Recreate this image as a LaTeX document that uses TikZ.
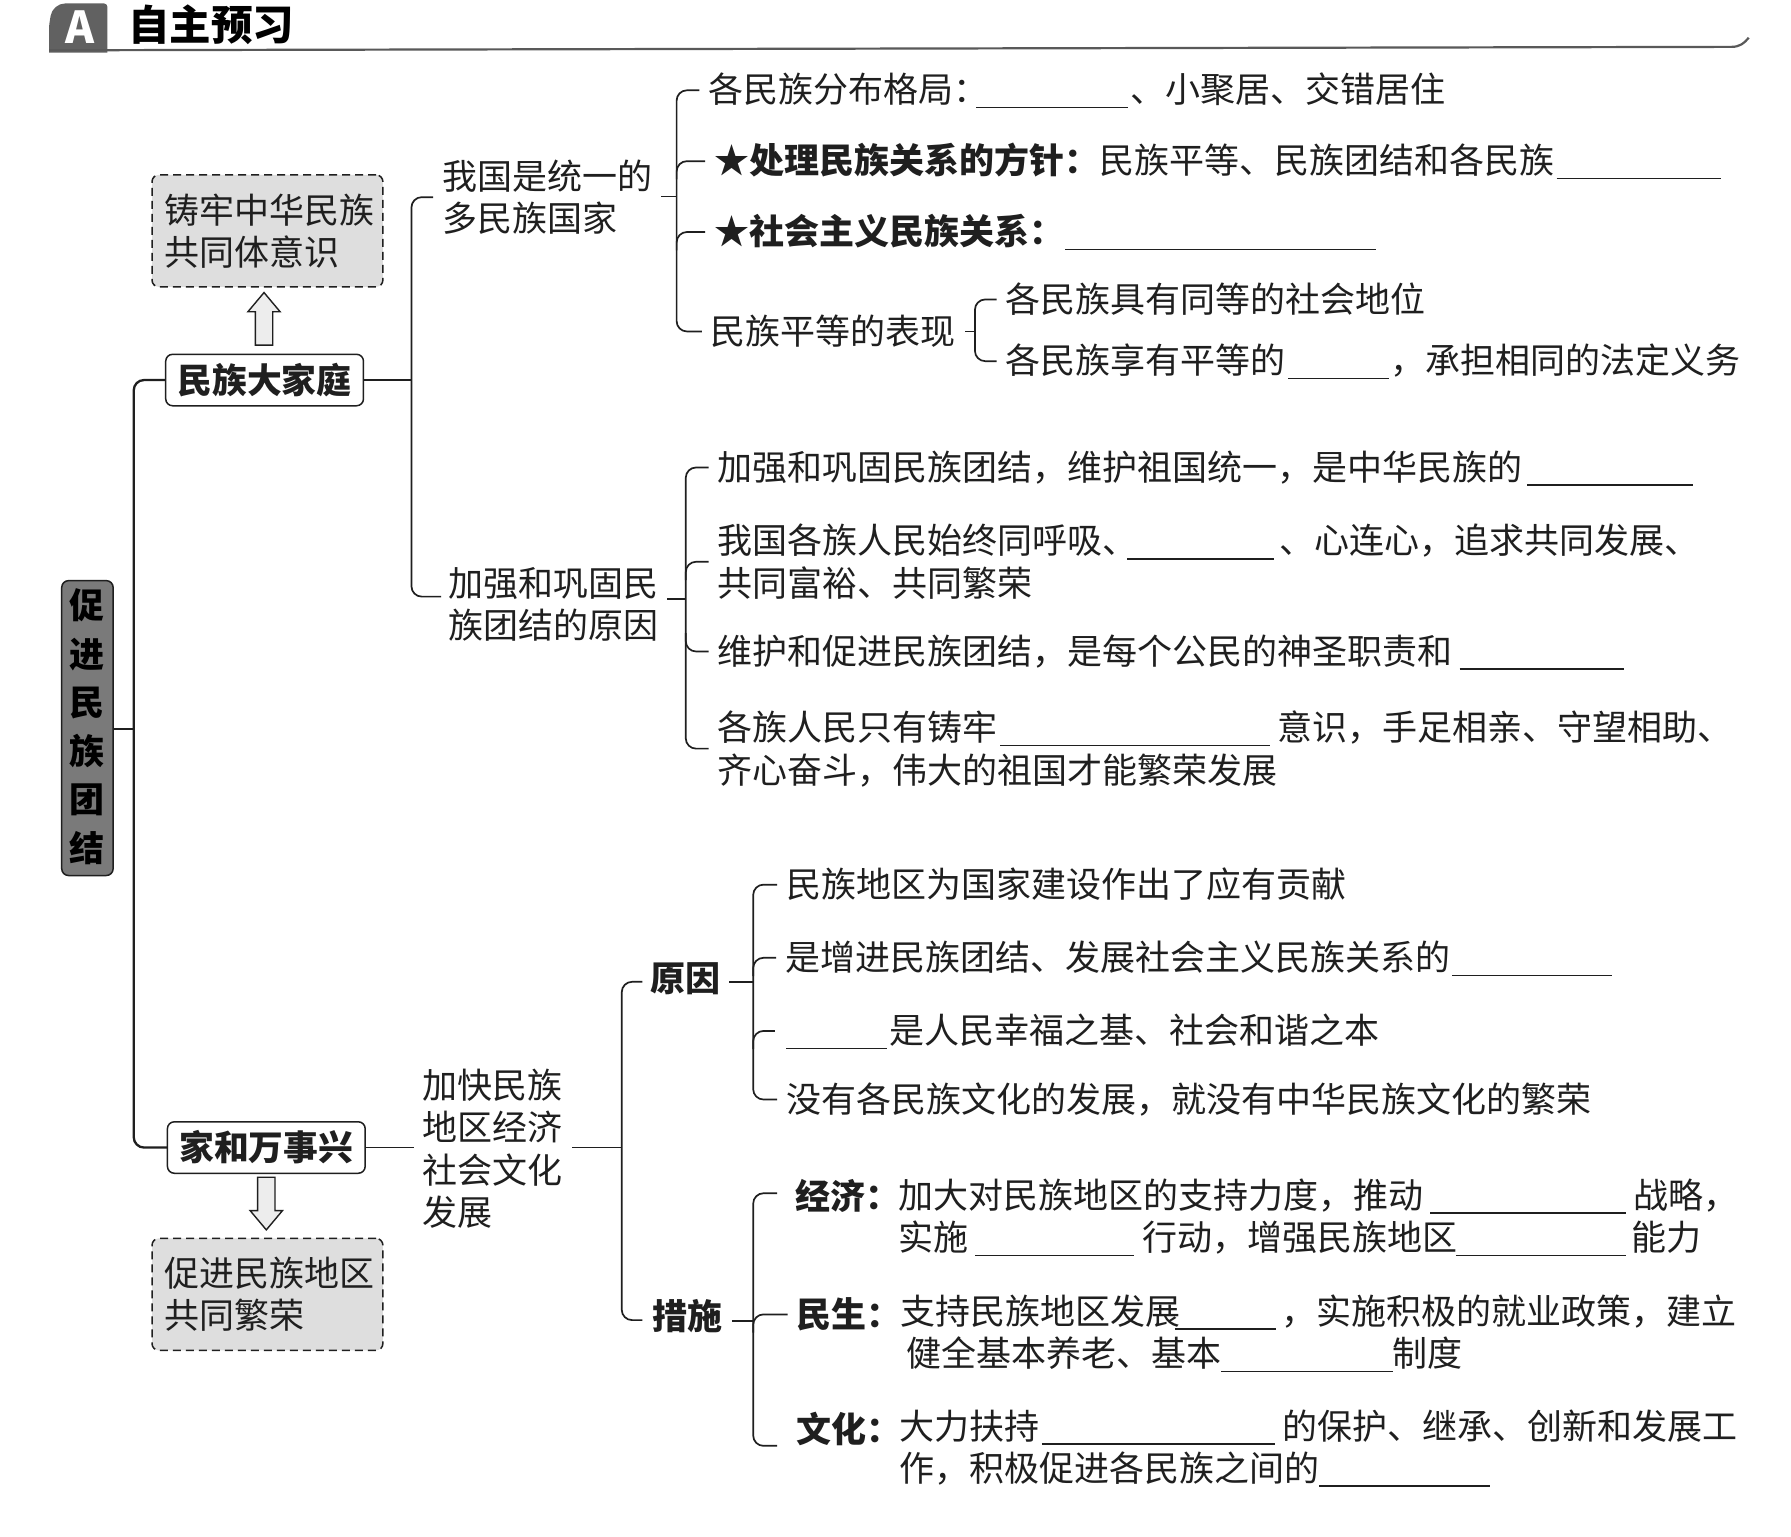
\documentclass[tikz,border=0pt]{standalone}
\usepackage{fontspec}
\usetikzlibrary{shapes.arrows}
\setmainfont{Noto Sans CJK SC}
\newlength\pxu \setlength\pxu{1.143pt}
\newcommand\st{\rule[-0.12em]{0pt}{1em}}
\newcommand\blank[1]{\hspace*{2\pxu}\rule[-0.16em]{#1\pxu}{1.5pt}\hspace*{2\pxu}}
\newcommand\hs[1]{\hspace*{#1\pxu}}
\definecolor{ink}{gray}{0.12}
\tikzset{
  leaf/.style={anchor=west,inner xsep=8\pxu,inner ysep=0pt,outer sep=0pt,align=left,text=ink,
    font=\fontsize{35}{42.3}\selectfont},
  boldleaf/.style={leaf,font=\fontsize{35}{42.3}\selectfont\bfseries},
  conn/.style={draw=ink,line width=1.7pt,rounded corners=9\pxu},
  mainconn/.style={conn,line width=2.3pt},
  topicbox/.style={draw=ink,line width=1.5pt,fill=white,rounded corners=6\pxu,minimum width=173\pxu,minimum height=45\pxu,
    inner sep=0pt,outer sep=0pt,text=ink,font=\fontsize{34.8}{40}\selectfont\bfseries},
  notebox/.style={draw=ink,line width=1.5pt,dash pattern=on 8pt off 5pt,fill=black!13,rounded corners=6\pxu,minimum width=202\pxu,minimum height=98\pxu,
    inner sep=0pt,outer sep=0pt,align=left,text=ink,font=\fontsize{35}{42.3}\selectfont},
  rootbox/.style={draw=ink,line width=1.5pt,fill=black!52,rounded corners=6\pxu,minimum width=45\pxu,minimum height=258\pxu,
    inner sep=0pt,outer sep=0pt,align=center,text=black,font=\fontsize{35}{48.6}\selectfont\bfseries},
  blockarrow/.style={shape=single arrow,draw=ink,line width=1.4pt,fill=black!7,minimum height=46\pxu,inner sep=7\pxu,
    single arrow head extend=6.5\pxu,single arrow tip angle=80,outer sep=0pt},
}
\begin{document}
\begin{tikzpicture}[x=1.143pt,y=-1.143pt]
\useasboundingbox (0,0) rectangle (1567,1344.7);
\fill[white] (0,0) rectangle (1567,1344.7);
% header
\fill[black!62] (43,46) [rounded corners=2\pxu] -- (43,22) [rounded corners=11\pxu] -- (46,3) [rounded corners=3\pxu] -- (94,3) [sharp corners] -- (94,46) -- cycle;
\node[inner sep=0pt,text=white,font=\fontsize{44}{46}\selectfont\bfseries] (tabA) at (70,24) {A};
\node[inner sep=0pt,anchor=west,text=black,font=\fontsize{41.5}{44}\selectfont\bfseries] (title) at (112,22) {\st 自主预习};
\coordinate (hl) at (43,44);
\coordinate (hr) at (1530,33);
\draw[black!65,line width=2.2pt] (hl) -- (1515,41) .. controls (1522,41) and (1526,38) .. (hr);
% root and topics
\node[rootbox] (root) at (76.5,637) {促\\进\\民\\族\\团\\结\rule[-6pt]{0pt}{1pt}};
\node[topicbox] (fam) at (231.5,332.5) {民族大家庭};
\node[topicbox] (har) at (233,1004) {家和万事兴};
\node[notebox] (note1) at (234,202) {\hs{4}\st 铸牢中华民族\\\hs{4}\st 共同体意识\hs{30}};
\node[notebox] (note2) at (234,1132.5) {\hs{4}\st 促进民族地区\\\hs{4}\st 共同繁荣\hs{60}};
\node[blockarrow,rotate=90] (ua) at (231,283.5) {};
\node[blockarrow,rotate=-90] (da) at (233,1048.5) {};
% level 2
\node[leaf] (u1) at (379,172.5) {\st 我国是统一的\\\st 多民族国家};
\node[leaf] (u2) at (384,528.5) {\st 加强和巩固民\\\st 族团结的原因};
\node[leaf] (h1) at (362,1005) {\st 加快民族\\\st 地区经济\\\st 社会文化\\\st 发展};
\node[boldleaf] (yy) at (561,856) {\st 原因};
\node[boldleaf] (cs) at (563,1152) {\st 措施};
% group 1
\node[leaf] (a1) at (612,79) {\st 各民族分布格局：\hs{-13}\blank{133}、小聚居、交错居住};
\node[leaf] (a2) at (617,141) {\st {\bfseries ★处理民族关系的方针：}民族平等、民族团结和各民族\blank{144}};
\node[leaf] (a3) at (617,203) {\st {\bfseries ★社会主义民族关系：}\hs{-1}\blank{272}};
\node[leaf] (a4) at (614,290) {\st 民族平等的表现};
\node[leaf] (b1) at (872,262) {\st 各民族具有同等的社会地位};
\node[leaf] (b2) at (872,316) {\st 各民族享有平等的\blank{88}，承担相同的法定义务};
% group 2
\node[leaf] (c1) at (620,409) {\st 加强和巩固民族团结，维护祖国统一，是中华民族的\hs{2}\blank{145}};
\node[leaf] (c2) at (620,491.5) {\st 我国各族人民始终同呼吸、\hs{-11}\blank{128}\hs{3}、心连心，追求共同发展、\\\st 共同富裕、共同繁荣};
\node[leaf] (c3) at (620,570) {\st 维护和促进民族团结，是每个公民的神圣职责和\hs{4}\blank{144}};
\node[leaf] (c4) at (620,655) {\st 各族人民只有铸牢\blank{236}\hs{5}意识，手足相亲、守望相助、\\\st 齐心奋斗，伟大的祖国才能繁荣发展};
% group 3
\node[leaf] (d1) at (680,774) {\st 民族地区为国家建设作出了应有贡献};
\node[leaf] (d2) at (679,838) {\st 是增进民族团结、发展社会主义民族关系的\blank{140}};
\node[leaf] (d3) at (678,902) {\st \blank{88}是人民幸福之基、社会和谐之本};
\node[leaf] (d4) at (680,962) {\st 没有各民族文化的发展，就没有中华民族文化的繁荣};
% group 4
\node[boldleaf] (e1) at (688,1047) {\st 经济：};
\node[boldleaf] (e2) at (689,1150) {\st 民生：};
\node[boldleaf] (e3) at (689,1250) {\st 文化：};
\node[leaf] (f1) at (778,1064.5) {\st 加大对民族地区的支持力度，推动\hs{4}\blank{171}\hs{5}战略，\\\st 实施\hs{4}\blank{139}\hs{5}行动，增强民族地区\hs{-3}\blank{149}\hs{3}能力};
\node[leaf] (f2) at (780,1166) {\st 支持民族地区发展\hs{-7}\blank{88}\hs{3}，实施积极的就业政策，建立\\\hs{5}\st 健全基本养老、基本\hs{-2}\blank{150}\hs{-2}制度};
\node[leaf] (f3) at (779,1266.5) {\st 大力扶持\blank{204}\hs{5}的保护、继承、创新和发展工\\\st 作，积极促进各民族之间的\hs{-2}\blank{149}};
% junction coordinates
\coordinate (j0) at (117,638);
\coordinate (j1) at (360,333);
\coordinate (j2) at (592,172);
\coordinate (j3) at (600,524);
\coordinate (j4) at (853,290);
\coordinate (j5) at (544,1004);
\coordinate (j6) at (659,859);
\coordinate (j7) at (659,1156);
\coordinate (u2s) at (386,522);
\coordinate (yys) at (562,859);
\coordinate (css) at (562,1155);
\coordinate (e1s) at (680,1044);
\coordinate (e3s) at (680,1265);
% connectors
\draw[mainconn] (root.east |- j0) -- (j0);
\draw[mainconn] (fam.west) -| (j0) |- (har.west);
\draw[conn] (fam.east) -- (fam.east -| j1);
\draw[conn] (u1.west) -| (j1) |- (u2s);
\draw[conn] (j2 -| u1.east) -- (j2);
\draw[conn] (a1.west) -| (j2) |- (a4.west);
\draw[conn] (a2.west) -- (a2.west -| j2) -- ++(0,16);
\draw[conn] (a3.west) -- (a3.west -| j2) -- ++(0,16);
\draw[conn] (j3 -| u2.east) -- (j3);
\draw[conn] (c1.west) -| (j3) |- (c4.west);
\draw[conn] (c2.west) -- (c2.west -| j3) -- ++(0,16);
\draw[conn] (c3.west) -- (c3.west -| j3) -- ++(0,-16);
\draw[conn] (a4.east) -- (j4);
\draw[conn] (b1.west) -| (j4) |- (b2.west);
\draw[conn] (har.east) -- (har.east -| h1.west);
\draw[conn] (h1.east |- j5) -- (j5);
\draw[conn] (yys) -| (j5) |- (css);
\draw[conn] (j6 -| yy.east) -- (j6);
\draw[conn] (d1.west) -| (j6) |- (d4.west);
\draw[conn] (d2.west) -- (d2.west -| j6) -- ++(0,16);
\draw[conn] (d3.west) -- (d3.west -| j6) -- ++(0,16);
\draw[conn] (j7 -| cs.east) -- (j7);
\draw[conn] (e1s) -| (j7) |- (e3s);
\draw[conn] (e2.west) -- (e2.west -| j7) -- ++(0,16);
\end{tikzpicture}
\end{document}
